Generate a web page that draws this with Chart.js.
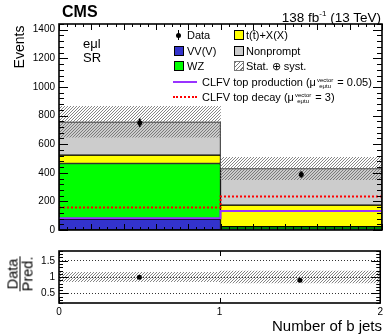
<!DOCTYPE html>
<html>
<head>
<meta charset="utf-8">
<script src="https://cdn.jsdelivr.net/npm/chart.js@4.4.1/dist/chart.umd.min.js"></script>
<style>
body{margin:0;background:#fff;font-family:'Liberation Sans',Arial,sans-serif;color:#000}
#wrap{position:relative;width:386px;height:336px;overflow:hidden}
.abs{position:absolute;white-space:nowrap}
.lg{position:absolute;font-size:11px;line-height:12px;white-space:nowrap}
.box{position:absolute;width:8px;height:8px;border:1px solid #000}
.ss{display:inline-block;vertical-align:middle;font-size:6px;line-height:6px;text-align:center;margin:0 1px}
.ss span{display:block}
</style>
</head>
<body>
<div id="wrap">
  <div style="position:absolute;left:0;top:0;width:386px;height:240px"><canvas id="mainChart"></canvas></div>
  <div style="position:absolute;left:0;top:240px;width:386px;height:96px"><canvas id="ratioChart"></canvas></div>

  <div class="abs" style="left:62px;top:4px;font-size:16px;line-height:16px;font-weight:bold">CMS</div>
  <div class="abs" style="right:5px;top:7px;font-size:13.5px;line-height:14px">138 fb<sup style="font-size:8px">-1</sup> (13 TeV)</div>
  <div class="abs" style="left:19px;top:47px;font-size:14px;transform:translate(-50%,-50%) rotate(-90deg)">Events</div>
  <div class="abs" style="left:83px;top:37px;font-size:13px;line-height:13.5px">eμl<br>SR</div>

  <!-- legend -->
  <div style="position:absolute;left:178px;top:30px;width:1px;height:10px;background:#000"></div>
  <div style="position:absolute;left:176px;top:33px;width:5px;height:5px;border-radius:50%;background:#000"></div>
  <div class="lg" style="left:187px;top:29px">Data</div>
  <div class="box" style="left:234px;top:30px;background:#ffff00"></div>
  <div class="lg" style="left:246px;top:29px">t(t̄)+X(X)</div>

  <div class="box" style="left:174px;top:45.5px;background:#3333cc"></div>
  <div class="lg" style="left:187px;top:44.5px">VV(V)</div>
  <div class="box" style="left:234px;top:45.5px;background:#cccccc"></div>
  <div class="lg" style="left:246px;top:44.5px">Nonprompt</div>

  <div class="box" style="left:174px;top:61px;background:#00ff00"></div>
  <div class="lg" style="left:187px;top:60px">WZ</div>
  <div class="box" style="left:234px;top:61px;border-color:#777;background:repeating-linear-gradient(135deg,#777 0 1px,#fff 1px 3px)"></div>
  <div class="lg" style="left:246px;top:60px">Stat. ⊕ syst.</div>

  <div style="position:absolute;left:173px;top:81px;width:24px;height:2px;background:#9933ff"></div>
  <div class="lg" style="left:202px;top:76px">CLFV top production (μ<span class="ss"><span>vector</span><span>eμtu</span></span> = 0.05)</div>
  <div style="position:absolute;left:173px;top:96px;width:24px;height:0;border-top:2px dotted #ff0000"></div>
  <div class="lg" style="left:202px;top:91px">CLFV top decay (μ<span class="ss"><span>vector</span><span>eμtu</span></span> = 3)</div>

  <div class="abs" style="left:20px;top:274px;transform:translate(-50%,-50%) rotate(-90deg);font-size:14.5px;line-height:14px;text-align:center">
    <div style="border-bottom:1px solid #000;padding:0 1px">Data</div><div>Pred.</div>
  </div>
  <div class="abs" style="right:4px;top:318px;font-size:15px;line-height:16px">Number of b jets</div>
</div>

<script>
// bins: 0 and 1 b jets
const binEdges = [0, 1, 2];
const binCenters = [0.5, 1.5];

// stacked predictions (events)
const vvV = [75, 5];
const wz = [390, 18];
const ttX = [58, 151];
const nonprompt = [234, 256];
const predUnc = [108, 78];

// observed data
const dataObs = [750, 388];
const dataErr = [27, 20];

// signal lines
const clfvProduction = [82, 132];
const clfvDecay = [158, 235];

// ratio panel
const ratioObs = [0.99, 0.9];
const ratioErr = [0.036, 0.046];

// tick labels
const mainYTicks = [0, 200, 400, 600, 800, 1000, 1200, 1400];
const ratioYTicks = [0.5, 1, 1.5];
const ratioXTicks = [0, 1, 2];

Chart.defaults.font.family = "'Liberation Sans', Arial, sans-serif";
Chart.defaults.color = '#000';

// cumulative stack ranges
let run = binCenters.map(() => 0);
const stackRanges = [vvV, wz, ttX, nonprompt].map(layer => {
  const r = layer.map((v, i) => [run[i], run[i] + v]);
  run = run.map((s, i) => s + layer[i]);
  return r;
});
const total = run;

const floatBars = ranges => binCenters.map((x, i) => ({ x, y: ranges[i] }));
const stepPoints = vals => binEdges.map((x, i) => ({ x, y: vals[Math.min(i, vals.length - 1)] }));
const plainLabel = v => String(v);

function hatchPattern(color) {
  const c = document.createElement('canvas');
  c.width = 3; c.height = 3;
  const g = c.getContext('2d');
  g.strokeStyle = color;
  g.lineWidth = 0.8;
  g.beginPath();
  g.moveTo(0, 3); g.lineTo(3, 0);
  g.moveTo(-1, 1); g.lineTo(1, -1);
  g.moveTo(2, 4); g.lineTo(4, 2);
  g.stroke();
  return g.createPattern(c, 'repeat');
}
const hatch = hatchPattern('#666');

// frame + inward ticks on all four sides
const frameTicks = {
  id: 'frameTicks',
  afterDraw(chart, args, opts) {
    const { ctx, chartArea: a, scales: { x, y } } = chart;
    ctx.save();
    ctx.strokeStyle = '#000';
    ctx.lineWidth = 1;
    const seg = (x1, y1, x2, y2) => { ctx.beginPath(); ctx.moveTo(x1, y1); ctx.lineTo(x2, y2); ctx.stroke(); };
    (opts.x || []).forEach(([step, len]) => {
      for (let v = x.min; v <= x.max + 1e-9; v += step) {
        const px = Math.round(x.getPixelForValue(v)) + 0.5;
        seg(px, a.bottom, px, a.bottom - len);
        seg(px, a.top, px, a.top + len);
      }
    });
    (opts.y || []).forEach(([step, len]) => {
      const start = Math.ceil(y.min / step - 1e-9) * step;
      for (let v = start; v <= y.max + 1e-9; v += step) {
        const py = Math.round(y.getPixelForValue(v)) + 0.5;
        seg(a.left, py, a.left + len, py);
        seg(a.right, py, a.right - len, py);
      }
    });
    ctx.lineWidth = 1.6;
    ctx.strokeRect(a.left, a.top, a.width, a.height);
    ctx.restore();
  }
};

const barBase = {
  type: 'bar', grouped: false, barPercentage: 1, categoryPercentage: 1,
  borderColor: '#000', borderWidth: 1, borderSkipped: false
};

new Chart(document.getElementById('mainChart'), {
  type: 'bar',
  data: {
    datasets: [
      { type: 'line', data: binCenters.map((x, i) => ({ x, y: dataObs[i] })), showLine: false,
        pointRadius: 2.5, pointBackgroundColor: '#000', pointBorderWidth: 0, order: 0 },
      { ...barBase, data: floatBars(dataObs.map((v, i) => [v - dataErr[i], v + dataErr[i]])),
        barThickness: 1.2, backgroundColor: '#000', borderWidth: 0, order: 1 },
      { type: 'line', data: stepPoints(clfvProduction), stepped: true, borderColor: '#9933ff',
        borderWidth: 2, pointRadius: 0, fill: false, order: 2 },
      { type: 'line', data: stepPoints(clfvDecay), stepped: true, borderColor: '#ff0000',
        borderWidth: 2, borderDash: [2, 2], pointRadius: 0, fill: false, order: 3 },
      { ...barBase, data: floatBars(total.map((t, i) => [t - predUnc[i], t + predUnc[i]])),
        backgroundColor: hatch, borderWidth: 0, order: 4 },
      { ...barBase, label: 'Nonprompt', data: floatBars(stackRanges[3]), backgroundColor: '#cccccc', order: 5 },
      { ...barBase, label: 't(t̄)+X(X)', data: floatBars(stackRanges[2]), backgroundColor: '#ffff00', order: 6 },
      { ...barBase, label: 'WZ', data: floatBars(stackRanges[1]), backgroundColor: '#00ff00', order: 7 },
      { ...barBase, label: 'VV(V)', data: floatBars(stackRanges[0]), backgroundColor: '#3333cc', order: 8 }
    ]
  },
  options: {
    responsive: true,
    maintainAspectRatio: false,
    animation: false,
    layout: { padding: { top: 24, right: 3, bottom: 9, left: 0 } },
    scales: {
      x: { type: 'linear', min: 0, max: 2, offset: false, display: false,
           ticks: { stepSize: 1 }, grid: { offset: false } },
      y: { min: 0, max: 1440,
           afterBuildTicks: s => { s.ticks = mainYTicks.map(v => ({ value: v })); },
           afterFit: s => { s.width = 59; },
           ticks: { font: { size: 10 }, padding: 4, callback: plainLabel },
           grid: { display: false, drawTicks: false }, border: { display: false } }
    },
    plugins: {
      legend: { display: false }, tooltip: { enabled: false },
      frameTicks: { x: [[0.05, 3], [0.2, 6]], y: [[40, 5], [200, 9]] }
    }
  },
  plugins: [frameTicks]
});

new Chart(document.getElementById('ratioChart'), {
  type: 'bar',
  data: {
    datasets: [
      { type: 'line', data: binCenters.map((x, i) => ({ x, y: ratioObs[i] })), showLine: false,
        pointRadius: 2.5, pointBackgroundColor: '#000', pointBorderWidth: 0, order: 0 },
      { ...barBase, data: floatBars(ratioObs.map((v, i) => [v - ratioErr[i], v + ratioErr[i]])),
        barThickness: 1.2, backgroundColor: '#000', borderWidth: 0, order: 1 },
      { ...barBase, data: floatBars(total.map((t, i) => [1 - predUnc[i] / t, 1 + predUnc[i] / t])),
        backgroundColor: hatch, borderWidth: 0, order: 2 }
    ]
  },
  options: {
    responsive: true,
    maintainAspectRatio: false,
    animation: false,
    layout: { padding: { top: 11, right: 3, bottom: 19, left: 0 } },
    scales: {
      x: { type: 'linear', min: 0, max: 2, offset: false,
           afterBuildTicks: s => { s.ticks = ratioXTicks.map(v => ({ value: v })); },
           afterFit: s => { s.height = 14; },
           ticks: { font: { size: 10 }, padding: 3, maxRotation: 0, callback: plainLabel },
           grid: { display: false, drawTicks: false, offset: false }, border: { display: false } },
      y: { min: 0.2, max: 1.8,
           afterBuildTicks: s => { s.ticks = ratioYTicks.map(v => ({ value: v })); },
           afterFit: s => { s.width = 59; },
           ticks: { font: { size: 10 }, padding: 4, callback: plainLabel },
           grid: { color: '#333', lineWidth: 1, drawTicks: false },
           border: { display: false, dash: [1, 2] } }
    },
    plugins: {
      legend: { display: false }, tooltip: { enabled: false },
      frameTicks: { x: [[1, 5]], y: [[0.1, 4], [0.5, 9]] }
    }
  },
  plugins: [frameTicks]
});
</script>
</body>
</html>
